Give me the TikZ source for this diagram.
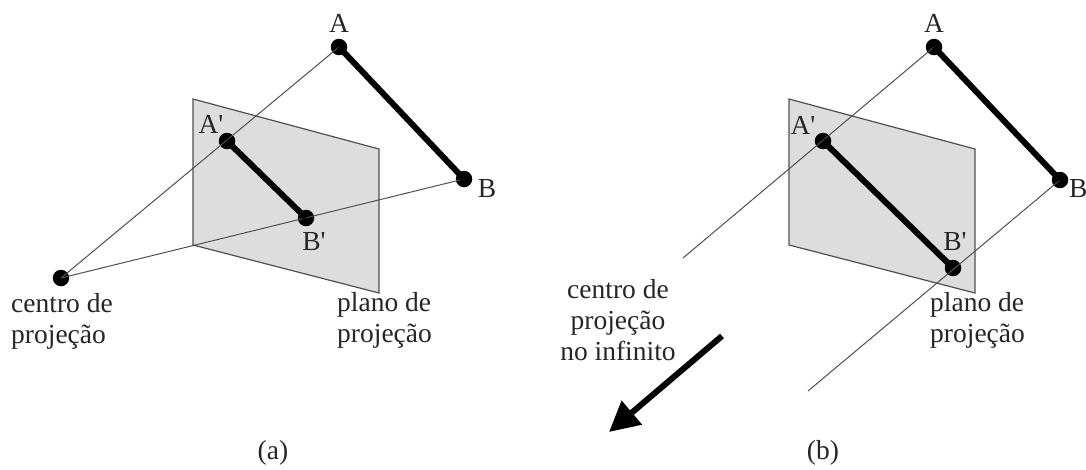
\documentclass[tikz,border=0pt]{standalone}
\usepackage{fontspec}
\setmainfont{Liberation Serif}
\usetikzlibrary{arrows.meta}
\definecolor{planefill}{HTML}{DDDDDD}
\definecolor{thinline}{HTML}{505050}
\tikzset{
  pt/.style={circle,fill=black,inner sep=0pt,minimum size=16.5pt},
  thin line/.style={draw=thinline,line width=1pt},
  thick seg/.style={draw=black,line width=6pt},
  plane/.style={fill=planefill,draw=thinline,line width=1.2pt,line join=miter},
  lab/.style={inner sep=0pt,font=\fontsize{27.5}{31}\selectfont,text=black!85},
  mlab/.style={lab,align=left},
  clab/.style={lab,align=center},
}
\begin{document}
\begin{tikzpicture}[x=1pt,y=-1pt]
\useasboundingbox[fill=white] (0,0) rectangle (1086,469);
% (a)
\coordinate (p1) at (193,99);
\coordinate (p2) at (379,149);
\coordinate (p3) at (379,293);
\coordinate (p4) at (193,245);
\draw[plane] (p1) -- (p2) -- (p3) -- (p4) -- cycle;
\node[pt] (A) at (339,47) {};
\node[pt] (B) at (464,179) {};
\node[pt] (Ap) at (227,141) {};
\node[pt] (Bp) at (306,218) {};
\node[pt] (C) at (61,278) {};
\draw[thin line] (C.center) -- (A.center);
\draw[thin line] (C.center) -- (B.center);
\draw[thick seg] (A.center) -- (B.center);
\draw[thick seg] (Ap.center) -- (Bp.center);
\node[lab] (lA) at (339,23) {A};
\node[lab] (lB) at (487,189) {B};
\node[lab] (lAp) at (211,124) {A\textquotesingle};
\node[lab] (lBp) at (314,242) {B\textquotesingle};
\node[mlab,anchor=north west] (lc) at (11,293) {centro de\\projeção};
\node[mlab,anchor=north west] (lp) at (337,292) {plano de\\projeção};
\node[lab] (la) at (273,453) {(a)};
% (b)
\coordinate (q1) at (789,99);
\coordinate (q2) at (975,149);
\coordinate (q3) at (975,293);
\coordinate (q4) at (789,245);
\draw[plane] (q1) -- (q2) -- (q3) -- (q4) -- cycle;
\node[pt] (A2) at (934,47) {};
\node[pt] (B2) at (1060,180) {};
\node[pt] (Ap2) at (823,141) {};
\node[pt] (Bp2) at (953,268) {};
\coordinate (e1) at (683,258);
\coordinate (e2) at (808,391);
\draw[thin line] (A2.center) -- (e1);
\draw[thin line] (B2.center) -- (e2);
\draw[thick seg] (A2.center) -- (B2.center);
\draw[thick seg] (Ap2.center) -- (Bp2.center);
\node[lab] (lA2) at (934,23) {A};
\node[lab,anchor=west] (lB2) at (1069,189) {B};
\node[lab] (lAp2) at (803,125) {A\textquotesingle};
\node[lab] (lBp2) at (955,242) {B\textquotesingle};
\node[clab,anchor=north] (lc2) at (618,279) {centro de\\projeção\\no infinito};
\node[mlab,anchor=north west] (lp2) at (930,292) {plano de\\projeção};
\node[lab] (lb) at (823,453) {(b)};
\coordinate (a1) at (722,336);
\coordinate (a2) at (609,432);
\draw[line width=6pt,-{Triangle[length=30pt,width=30pt]}] (a1) -- (a2);
\end{tikzpicture}
\end{document}
